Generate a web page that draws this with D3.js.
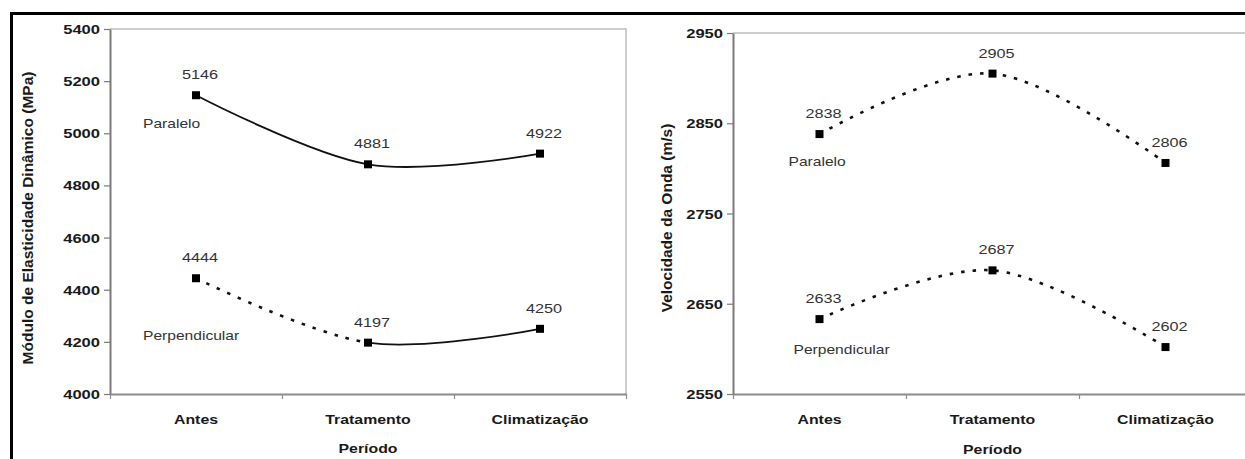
<!DOCTYPE html>
<html>
<head>
<meta charset="utf-8">
<script src="https://cdn.jsdelivr.net/npm/d3@7"></script>
<style>
html,body{margin:0;padding:0;background:#fff;}
svg{display:block;font-family:"Liberation Sans",Arial,sans-serif;}
</style>
</head>
<body>
<svg id="chart" width="1245" height="459"></svg>
<script>
// ---- data ----
const categories = ["Antes", "Tratamento", "Climatização"];
const moduloParalelo = [5146, 4881, 4922];
const moduloPerpendicular = [4444, 4197, 4250];
const velocidadeParalelo = [2838, 2905, 2806];
const velocidadePerpendicular = [2633, 2687, 2602];
const moduloTicks = [4000, 4200, 4400, 4600, 4800, 5000, 5200, 5400];
const velocidadeTicks = [2550, 2650, 2750, 2850, 2950];
const seriesNames = ["Paralelo", "Perpendicular"];
const xTitle = "Período";
const moduloTitle = "Módulo de Elasticidade Dinâmico (MPa)";
const velocidadeTitle = "Velocidade da Onda (m/s)";

const svg = d3.select("#chart");
svg.append("rect").attr("width", 1245).attr("height", 459).attr("fill", "#fff");

// outer frame (top and left visible)
svg.append("line").attr("x1", 10).attr("x2", 1245).attr("y1", 13.5).attr("y2", 13.5)
  .attr("stroke", "#000").attr("stroke-width", 3);
svg.append("line").attr("x1", 11.5).attr("x2", 11.5).attr("y1", 12).attr("y2", 459)
  .attr("stroke", "#000").attr("stroke-width", 3);

function stext(g, x, y, str, o) {
  return g.append("text")
    .attr("transform", `translate(${x},${y}) scale(${o.sx || 1},1)`)
    .attr("text-anchor", o.anchor || "middle")
    .attr("font-size", o.size || 13)
    .attr("font-weight", o.bold ? "bold" : "normal")
    .attr("fill", o.fill || "#222")
    .text(str);
}

function panel(cfg) {
  const g = svg.append("g");
  const x = d3.scaleBand().domain(categories).range([cfg.left, cfg.right]);
  const xb = d3.scaleLinear().domain([0, categories.length]).range([cfg.left, cfg.right]);
  const y = d3.scaleLinear().domain(cfg.domain).range([cfg.bottom, cfg.top]);
  const cx = c => x(c) + x.bandwidth() / 2;

  // plot area border (top & right)
  g.append("path")
    .attr("d", `M${cfg.left},${cfg.top}H${cfg.right}V${cfg.bottom}`)
    .attr("fill", "none").attr("stroke", "#bdbdbd").attr("stroke-width", 1.5);

  // y axis
  const ya = g.append("g").attr("transform", `translate(${cfg.left},0)`)
    .call(d3.axisLeft(y).tickValues(cfg.ticks).tickSize(6).tickSizeOuter(0).tickFormat(d3.format("d")));
  ya.select(".domain").attr("stroke", "#7a7a7a").attr("stroke-width", 2);
  ya.selectAll(".tick line").attr("stroke", "#7a7a7a").attr("stroke-width", 1.2);
  ya.selectAll(".tick text").remove();
  ya.selectAll(".tick").each(function (d) {
    stext(d3.select(this), -10, 4.5, d, { anchor: "end", size: 12, bold: true, sx: 1.38, fill: "#1a1a1a" });
  });

  // x axis: boundary ticks
  const xa = g.append("g").attr("transform", `translate(0,${cfg.bottom})`)
    .call(d3.axisBottom(xb).tickValues(d3.range(categories.length + 1)).tickSize(5).tickSizeOuter(0).tickFormat(""));
  xa.select(".domain").attr("stroke", "#8c8c8c").attr("stroke-width", 2);
  xa.selectAll(".tick line").attr("stroke", "#8c8c8c").attr("stroke-width", 1.2);
  categories.forEach(c => stext(g, cx(c), cfg.bottom + 30, c, { size: 13, bold: true, sx: 1.22, fill: "#1a1a1a" }));
  stext(g, (cfg.left + cfg.right) / 2, 453 + (cfg.titleShift || 0), xTitle, { size: 13, bold: true, sx: 1.22, fill: "#1a1a1a" });

  // y title
  g.append("text")
    .attr("transform", `translate(${cfg.titleX},${cfg.titleY}) rotate(-90)`)
    .attr("text-anchor", "middle").attr("font-size", cfg.titleSize).attr("font-weight", "bold")
    .attr("fill", "#1a1a1a").text(cfg.title);

  const line = d3.line().x((d, i) => cx(categories[i])).y(d => y(d)).curve(d3.curveCatmullRom.alpha(0));

  // clip paths
  const id = cfg.id;
  const defs = svg.append("defs");
  defs.append("clipPath").attr("id", id + "L").append("rect")
    .attr("x", 0).attr("y", 0).attr("width", cx(categories[1])).attr("height", 459);
  defs.append("clipPath").attr("id", id + "R").append("rect")
    .attr("x", cx(categories[1])).attr("y", 0).attr("width", 1245).attr("height", 459);

  cfg.series.forEach((s, si) => {
    ["L", "R"].forEach((side, k) => {
      const st = s.styles[k];
      g.append("path").datum(s.values)
        .attr("d", line)
        .attr("clip-path", `url(#${id + side})`)
        .attr("fill", "none").attr("stroke", "#111")
        .attr("stroke-width", st === "solid" ? 1.8 : 2.6)
        .attr("stroke-dasharray", st === "solid" ? null : "3.5,8");
    });
    g.selectAll(null).data(s.values).enter().append("rect")
      .attr("x", (d, i) => cx(categories[i]) - 4)
      .attr("y", d => y(d) - 4)
      .attr("width", 8).attr("height", 8).attr("fill", "#000");
    s.values.forEach((v, i) => {
      stext(g, cx(categories[i]) + 4, y(v) - 16, v, { size: 13, sx: 1.25, fill: "#333" });
    });
    stext(g, cx(categories[0]) + s.nameDx, y(s.values[0]) + s.nameDy, seriesNames[si], { anchor: "start", size: 13, sx: 1.2, fill: "#333" });
  });
}

panel({
  id: "m", left: 110, right: 626, top: 29, bottom: 394,
  domain: [4000, 5400], ticks: moduloTicks,
  title: moduloTitle, titleX: 33, titleY: 218, titleSize: 15.5,
  series: [
    { values: moduloParalelo, styles: ["solid", "solid"], nameDx: -53, nameDy: 33 },
    { values: moduloPerpendicular, styles: ["dotted", "solid"], nameDx: -53, nameDy: 62 }
  ]
});

panel({
  id: "v", left: 733, right: 1252, top: 33, bottom: 394,
  domain: [2550, 2950], ticks: velocidadeTicks,
  title: velocidadeTitle, titleX: 672, titleY: 218, titleSize: 15.5, titleShift: 1,
  series: [
    { values: velocidadeParalelo, styles: ["dotted", "dotted"], nameDx: -31, nameDy: 32 },
    { values: velocidadePerpendicular, styles: ["dotted", "dotted"], nameDx: -26, nameDy: 35 }
  ]
});
</script>
</body>
</html>
